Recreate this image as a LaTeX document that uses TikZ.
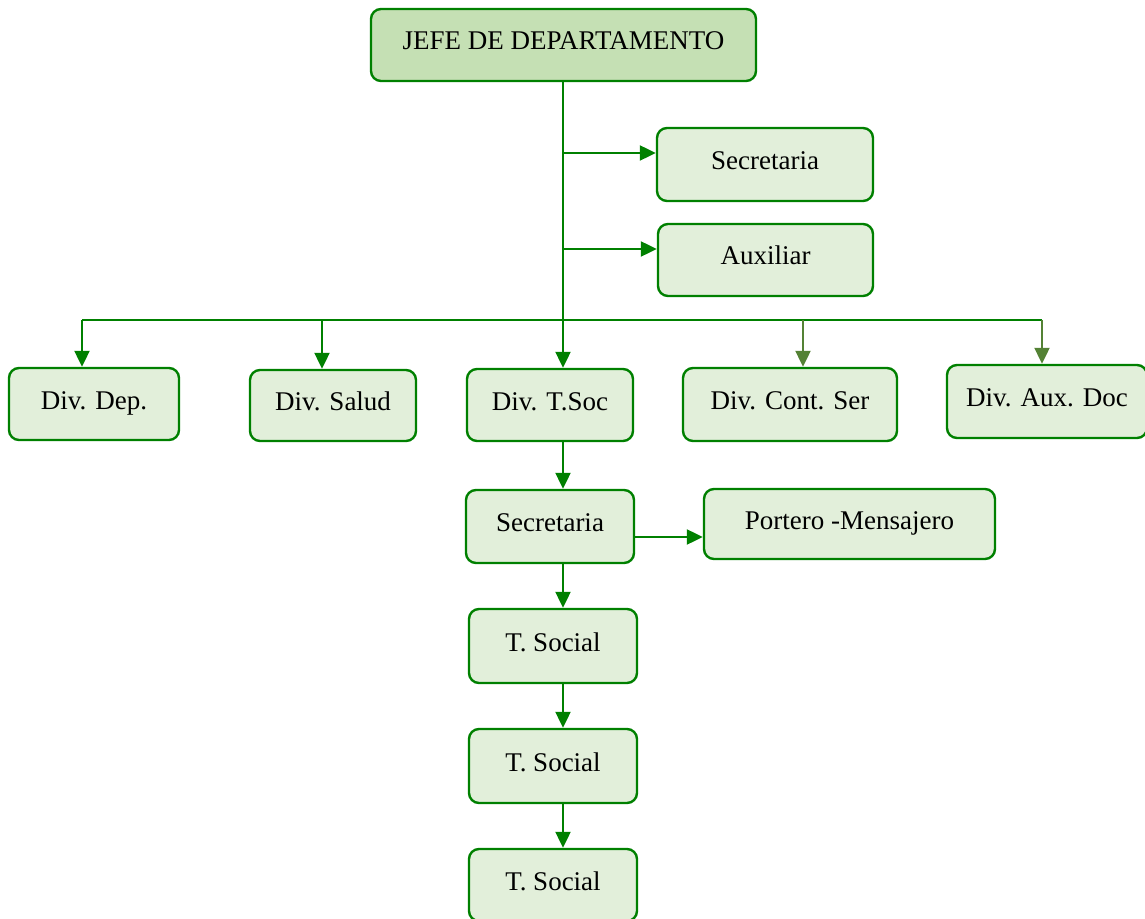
\documentclass[tikz,border=0pt]{standalone}
\usepackage{fontspec}
\setmainfont{Liberation Serif}
\usepackage{tikz}
\usetikzlibrary{arrows.meta, positioning, calc}
\definecolor{linegreen}{RGB}{0, 128, 0}
\definecolor{olivegreen}{RGB}{84, 130, 53}
\definecolor{paleboxfill}{RGB}{226, 239, 218}
\definecolor{headfill}{RGB}{197, 224, 180}

\begin{document}
\begin{tikzpicture}[x=0.5pt, y=-0.5pt,
  orgbox/.style={draw=linegreen, line width=1.2pt, fill=paleboxfill, rounded corners=5pt,
    font=\fontsize{13.5}{16}\selectfont, text height=11pt, text depth=6pt, inner sep=0pt},
  conn/.style={draw=linegreen, line width=1.1pt, -{Triangle[length=8pt, width=7.5pt]}},
  oliveconn/.style={conn, draw=olivegreen, -{Triangle[length=8pt, width=7.5pt, fill=olivegreen]}}]
  \useasboundingbox (0,0) rectangle (1145,919);

  % Head
  \node[orgbox, fill=headfill, minimum width=192.5pt, minimum height=36pt] (jefe) at (563.5, 45) {JEFE DE DEPARTAMENTO};

  % Staff boxes
  \node[orgbox, minimum width=108pt, minimum height=36.5pt] (secre) at (765, 164.5) {Secretaria};
  \node[orgbox, minimum width=107.5pt, minimum height=36pt] (aux) at (765.5, 260) {Auxiliar};

  % Divisions
  \node[orgbox, minimum width=85pt, minimum height=36pt] (ddep) at (94, 404) {Div. Dep.};
  \node[orgbox, minimum width=83pt, minimum height=35.5pt] (dsalud) at (333, 405.5) {Div. Salud};
  \node[orgbox, minimum width=83pt, minimum height=36pt] (dtsoc) at (550, 405) {Div. T.Soc};
  \node[orgbox, minimum width=107pt, minimum height=36.5pt] (dcont) at (790, 404.5) {Div. Cont. Ser};
  \node[orgbox, minimum width=100pt, minimum height=36.5pt] (dauxdoc) at (1047, 401.5) {Div. Aux. Doc};

  % Under Div. T.Soc
  \node[orgbox, minimum width=84pt, minimum height=36.5pt] (secre2) at (550, 526.5) {Secretaria};
  \node[orgbox, minimum width=145.5pt, minimum height=35pt] (portero) at (849.5, 524) {Portero -Mensajero};
  \node[orgbox, minimum width=84pt, minimum height=37pt] (tsoc1) at (553, 646) {T. Social};
  \node[orgbox, minimum width=84pt, minimum height=37pt] (tsoc2) at (553, 766) {T. Social};
  \node[orgbox, minimum width=84pt, minimum height=36pt] (tsoc3) at (553, 885) {T. Social};

  % Trunk and branches
  \coordinate (axis) at (563, 0);
  \coordinate (br1) at (563, 153);
  \coordinate (br2) at (563, 249);
  \coordinate (barL) at (82, 320);
  \coordinate (barS) at (322, 320);
  \coordinate (barC) at (803, 320);
  \coordinate (barR) at (1042, 320);
  \coordinate (mens) at (600, 537);

  \draw[conn] (jefe.south -| axis) -- (dtsoc.north -| axis);
  \draw[conn] (br1) -- (br1 -| secre.west);
  \draw[conn] (br2) -- (br2 -| aux.west);
  \draw[draw=linegreen, line width=1.1pt] (barL) -- (barR);
  \draw[conn] (barL) -- (barL |- ddep.north);
  \draw[conn] (barS) -- (barS |- dsalud.north);
  \draw[oliveconn] (barC) -- (barC |- dcont.north);
  \draw[oliveconn] (barR) -- (barR |- dauxdoc.north);

  % Chain below
  \draw[conn] (dtsoc.south -| axis) -- (secre2.north -| axis);
  \draw[conn] (secre2.east |- mens) -- (portero.west |- mens);
  \draw[conn] (secre2.south -| axis) -- (tsoc1.north -| axis);
  \draw[conn] (tsoc1.south -| axis) -- (tsoc2.north -| axis);
  \draw[conn] (tsoc2.south -| axis) -- (tsoc3.north -| axis);
\end{tikzpicture}
\end{document}
